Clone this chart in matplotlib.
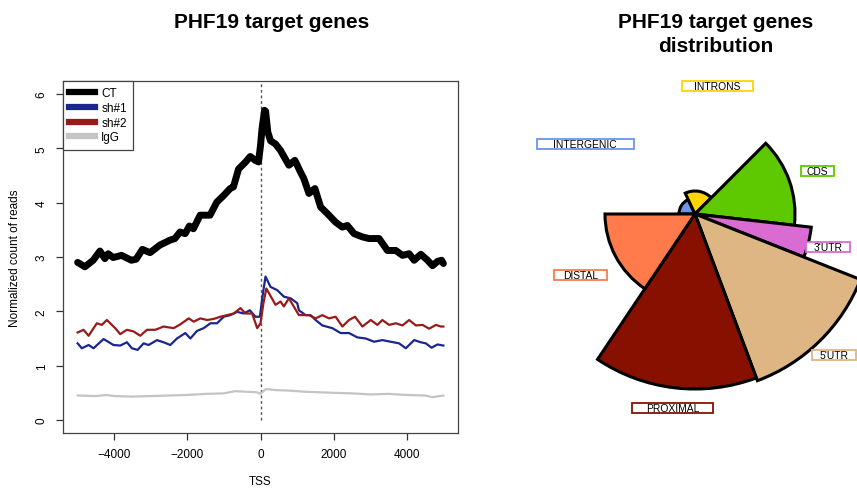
import numpy as np
import matplotlib
matplotlib.use("Agg")
import matplotlib.pyplot as plt
from matplotlib.lines import Line2D
from matplotlib.path import Path

plt.rcParams['font.family'] = ['Liberation Sans', 'DejaVu Sans']

# --- average profiles around the TSS ---
ct_pos = [-5000, -4800, -4575, -4390, -4255, -4165, -4030, -3800, -3530, -3400,
          -3230, -3020, -2750, -2475, -2340, -2200, -2060, -1945, -1835, -1650,
          -1380, -1195, -1010, -830, -740, -600, -420, -280, -145, -55,
          0, 40, 110, 140, 200, 274, 411, 548, 776, 940,
          1096, 1187, 1324, 1488, 1644, 1827, 2055, 2238, 2375, 2557,
          2786, 2968, 3242, 3470, 3699, 3882, 4064, 4201, 4384, 4567,
          4704, 4840, 4950, 5000]
ct_val = [2.90, 2.82, 2.94, 3.11, 2.97, 3.06, 2.99, 3.03, 2.94, 2.96,
          3.14, 3.08, 3.22, 3.31, 3.34, 3.46, 3.43, 3.57, 3.52, 3.77,
          3.77, 4.01, 4.13, 4.26, 4.29, 4.62, 4.74, 4.85, 4.78, 4.75,
          5.05, 5.35, 5.70, 5.68, 5.30, 5.14, 5.08, 4.96, 4.69, 4.78,
          4.56, 4.44, 4.17, 4.26, 3.92, 3.80, 3.64, 3.55, 3.58, 3.43,
          3.37, 3.34, 3.34, 3.12, 3.12, 3.03, 3.06, 2.94, 3.05, 2.94,
          2.84, 2.92, 2.94, 2.88]

sh1_pos = [-5000, -4885, -4700, -4565, -4290, -4020, -3836, -3653, -3516, -3360,
           -3196, -3060, -2830, -2649, -2466, -2283, -2055, -1918, -1735, -1553,
           -1370, -1187, -1005, -822, -640, -457, -292, -137, -18, 60,
           137, 274, 457, 639, 822, 1005, 1050, 1233, 1370, 1507,
           1690, 1964, 2192, 2420, 2649, 2877, 3105, 3333, 3562, 3790,
           3973, 4201, 4384, 4521, 4677, 4840, 5000]
sh1_val = [1.41, 1.32, 1.38, 1.32, 1.49, 1.38, 1.37, 1.43, 1.32, 1.29,
           1.41, 1.38, 1.47, 1.43, 1.38, 1.50, 1.60, 1.50, 1.64, 1.69,
           1.78, 1.78, 1.90, 1.93, 1.99, 1.96, 2.02, 1.90, 1.90, 2.30,
           2.64, 2.45, 2.39, 2.27, 2.24, 2.15, 2.02, 1.93, 1.93, 1.84,
           1.74, 1.69, 1.60, 1.60, 1.52, 1.50, 1.44, 1.47, 1.44, 1.41,
           1.32, 1.47, 1.43, 1.41, 1.33, 1.39, 1.37]

sh2_pos = [-5000, -4840, -4700, -4475, -4340, -4200, -3973, -3836, -3653, -3470,
           -3288, -3105, -2877, -2649, -2375, -2192, -1964, -1827, -1644, -1460,
           -1280, -1096, -913, -730, -548, -411, -228, -90, 0, 80,
           160, 411, 548, 639, 776, 1050, 1324, 1507, 1690, 1872,
           2055, 2238, 2420, 2584, 2786, 3014, 3196, 3333, 3516, 3699,
           3882, 4064, 4247, 4430, 4612, 4795, 4932, 5000]
sh2_val = [1.61, 1.66, 1.55, 1.78, 1.75, 1.84, 1.69, 1.58, 1.66, 1.63,
           1.55, 1.66, 1.66, 1.72, 1.69, 1.76, 1.87, 1.81, 1.87, 1.84,
           1.86, 1.90, 1.93, 1.96, 2.06, 1.96, 1.96, 1.69, 1.78, 2.15,
           2.42, 2.12, 2.18, 2.09, 2.24, 1.93, 1.93, 1.87, 1.93, 1.87,
           1.90, 1.72, 1.84, 1.90, 1.72, 1.84, 1.75, 1.84, 1.75, 1.78,
           1.74, 1.84, 1.74, 1.75, 1.68, 1.75, 1.72, 1.72]

igg_pos = [-5000, -4500, -4200, -4000, -3500, -3000, -2500, -2000, -1500, -1000,
           -700, -400, -100, 0, 150, 400, 800, 1200, 1600, 2000,
           2500, 3000, 3500, 4000, 4500, 4700, 5000]
igg_val = [0.45, 0.44, 0.46, 0.44, 0.43, 0.44, 0.45, 0.46, 0.48, 0.49,
           0.53, 0.52, 0.51, 0.48, 0.57, 0.55, 0.54, 0.52, 0.51, 0.50,
           0.49, 0.47, 0.48, 0.46, 0.45, 0.42, 0.45]

# --- genomic distribution ---
regions = ['INTERGENIC', 'INTRONS', 'CDS', "3'UTR", "5'UTR", 'PROXIMAL', 'DISTAL']
share = [18.0, 19.5, 14.3, 4.2, 13.3, 15.1, 15.6]       # angular share, %
enrichment = [0.16, 0.23, 1.00, 1.17, 1.78, 1.75, 0.90]  # sector radius
region_colors = ['#6A96E8', '#FFD500', '#5EC800', '#D96BD2',
                 '#DDB684', '#881000', '#FF7B4C']

fig = plt.figure(figsize=(8.57, 4.89), dpi=100)

# left panel: profile plot
ax = fig.add_axes([63 / 857, 1 - 434 / 489, 395 / 857, 352 / 489])
ax.vlines(0, 0, 6.24, colors='#555555', linestyles=(0, (2, 2)), linewidth=1)
ax.plot(ct_pos, ct_val, color='black', lw=5, solid_joinstyle='round',
        solid_capstyle='round')
ax.plot(sh1_pos, sh1_val, color='#1A2690', lw=1.6)
ax.plot(sh2_pos, sh2_val, color='#9A1A1A', lw=1.6)
ax.plot(igg_pos, igg_val, color='#C4C4C4', lw=1.6)

ax.set_xlim(-5400, 5400)
ax.set_ylim(-0.24, 6.24)
ax.set_xticks([-4000, -2000, 0, 2000, 4000])
ax.set_yticks(range(7))
ax.tick_params(length=5, width=0.9, color='#333333', labelsize=8.5, pad=6)
for lab in ax.get_yticklabels():
    lab.set_rotation(90)
    lab.set_va('center')
for s in ax.spines.values():
    s.set_color('#444444')
    s.set_linewidth(0.9)

ax.set_xlabel('TSS', fontsize=8.5)
ax.xaxis.set_label_coords(0.5, -0.135)
ax.xaxis.label.set_va('center')
ax.set_ylabel('Normalized count of reads', fontsize=8.5)
ax.yaxis.set_label_coords(-0.122, 0.5)
ax.yaxis.label.set_va('center')

handles = [Line2D([], [], color=c, lw=4.5) for c in ['black', '#1A2690', '#9A1A1A', '#C4C4C4']]
leg = ax.legend(handles, ['CT', 'sh#1', 'sh#2', 'IgG'], loc='upper left',
                borderaxespad=0, fontsize=8.5, handlelength=2.2, handletextpad=0.5,
                labelspacing=0.22, fancybox=False, framealpha=1, borderpad=0.55)
leg.get_frame().set_edgecolor('#444444')
leg.get_frame().set_linewidth(0.9)

fig.text(272 / 857, 1 - 22 / 489, 'PHF19 target genes', ha='center', va='center',
         fontsize=15, fontweight='bold')

# right panel: sector plot
pax = fig.add_axes([495 / 857, 74 / 489, 400 / 857, 400 / 489], projection='polar')
pax.set_ylim(0, 2.0)
pax.set_axis_off()

span = np.deg2rad(np.array(share) * 3.6)
start = np.pi - np.concatenate([[0], np.cumsum(span)[:-1]])
mid = start - span / 2
bars = pax.bar(mid, enrichment, width=span, bottom=0, color=region_colors,
               edgecolor='black', linewidth=2.2, align='center')
for b in bars:
    b.set_clip_on(False)
    b.set_joinstyle('miter')


def wide_box(x0, y0, width, height, mutation_size):
    dx = 0.26 * width
    x0, x1 = x0 - dx, x0 + width + dx
    y1 = y0 + height
    return Path([(x0, y0), (x1, y0), (x1, y1), (x0, y1), (x0, y0)], closed=True)


for name, t, r, c in zip(regions, mid, enrichment, region_colors):
    pax.text(t, max(r + 0.2, 1.3), name, ha='center', va='center', fontsize=7.4,
             clip_on=False,
             bbox=dict(boxstyle=wide_box, facecolor='white', edgecolor=c,
                       linewidth=1.3))

fig.text(716 / 857, 1 - 22 / 489, 'PHF19 target genes', ha='center', va='center',
         fontsize=15, fontweight='bold')
fig.text(716 / 857, 1 - 47 / 489, 'distribution', ha='center', va='center',
         fontsize=15, fontweight='bold')

fig.savefig('out.png', dpi=100)
